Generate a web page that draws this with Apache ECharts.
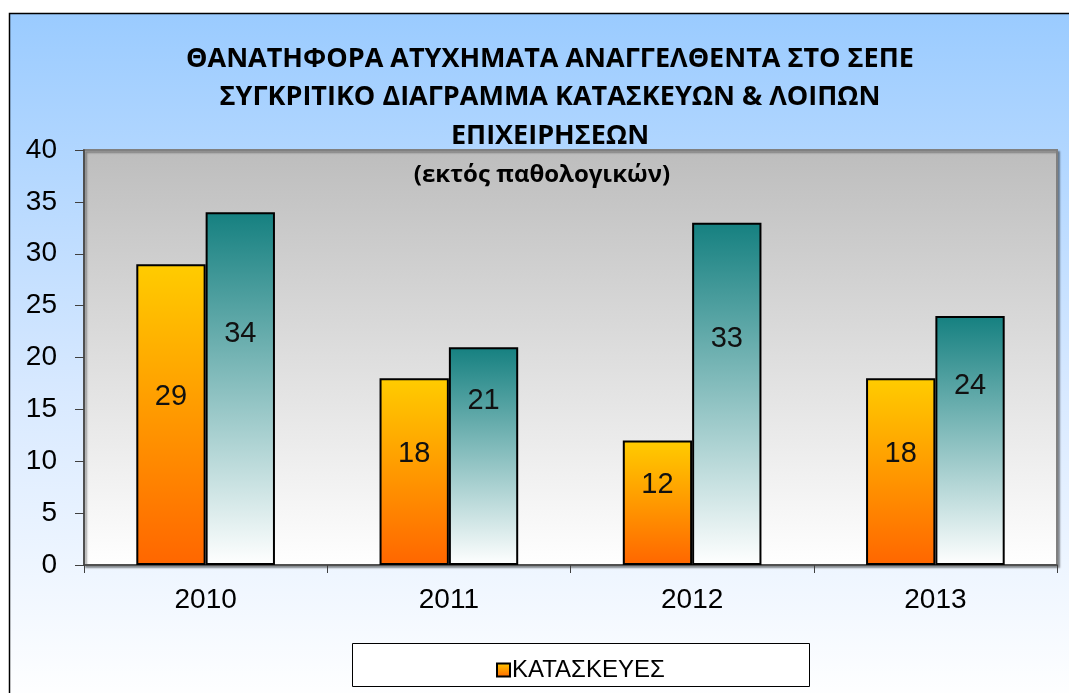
<!DOCTYPE html>
<html>
<head>
<meta charset="utf-8">
<style>
  html, body { margin: 0; padding: 0; background: #fff; }
  #chart { width: 1069px; height: 693px; }
</style>
<script src="https://cdn.jsdelivr.net/npm/echarts@6/dist/echarts.min.js"></script>
</head>
<body>
<div id="chart"></div>
<script>
// δεδομένα
var years = ['2010', '2011', '2012', '2013'];
var kataskeves = [29, 18, 12, 18];
var loipes = [34, 21, 33, 24];
var yTicks = [0, 5, 10, 15, 20, 25, 30, 35, 40];

var titleText = 'ΘΑΝΑΤΗΦΟΡΑ ΑΤΥΧΗΜΑΤΑ ΑΝΑΓΓΕΛΘΕΝΤΑ ΣΤΟ ΣΕΠΕ\nΣΥΓΚΡΙΤΙΚΟ ΔΙΑΓΡΑΜΜΑ ΚΑΤΑΣΚΕΥΩΝ & ΛΟΙΠΩΝ\nΕΠΙΧΕΙΡΗΣΕΩΝ';
var subText = '(εκτός παθολογικών)';

var myChart = echarts.init(document.getElementById('chart'));

var grad = function (top, bottom) {
    return new echarts.graphic.LinearGradient(0, 0, 0, 1, [
        { offset: 0, color: top },
        { offset: 1, color: bottom }
    ]);
};

var arial = 'Liberation Sans, Arial, sans-serif';

var option = {
    backgroundColor: '#fff',
    animation: false,
    graphic: [
        {
            type: 'rect', z: -10, silent: true,
            shape: { x: 9.5, y: 13.5, width: 1070, height: 690 },
            style: {
                fill: new echarts.graphic.LinearGradient(0, 0, 0, 1, [
                    { offset: 0, color: '#9ACBFF' },
                    { offset: 0.55, color: '#D8E9FF' },
                    { offset: 1, color: '#FFFFFF' }
                ]),
                stroke: '#000', lineWidth: 1.5
            }
        },
        {
            type: 'rect', z: -5, silent: true,
            shape: { x: 352.5, y: 643.5, width: 457, height: 43 },
            style: { fill: '#fff', stroke: '#000', lineWidth: 1 }
        }
    ],
    title: [
        {
            text: titleText,
            left: 545, top: 35, textAlign: 'center',
            textStyle: {
                fontFamily: 'Open Sans, Noto Sans, sans-serif',
                fontWeight: 'bold', fontSize: 27, lineHeight: 38.5, color: '#000'
            }
        },
        {
            text: subText,
            left: 537, top: 158, textAlign: 'center',
            textStyle: {
                fontFamily: 'Open Sans, Noto Sans, sans-serif',
                fontWeight: 'bold', fontSize: 24, color: '#000'
            }
        }
    ],
    legend: {
        data: ['ΚΑΤΑΣΚΕΥΕΣ'],
        left: 491, top: 653,
        icon: 'rect', itemWidth: 13, itemHeight: 13, itemGap: 4,
        textStyle: { fontFamily: arial, fontSize: 24, color: '#000', padding: [0, 0, 0, -3] }
    },
    grid: {
        left: 84, right: 12, top: 150, bottom: 128,
        show: true,
        backgroundColor: grad('#BDBDBD', '#FFFFFF'),
        borderColor: '#808080', borderWidth: 2,
        shadowColor: 'rgba(0,0,0,0.35)', shadowOffsetX: 2, shadowOffsetY: 2, shadowBlur: 2
    },
    xAxis: {
        type: 'category',
        data: years,
        axisLine: { lineStyle: { color: '#404040', width: 1.5 } },
        axisTick: { show: true, length: 8, alignWithLabel: false, lineStyle: { color: '#404040' } },
        axisLabel: { margin: 21, fontSize: 28, color: '#000', fontFamily: arial }
    },
    yAxis: {
        type: 'value',
        min: yTicks[0], max: yTicks[yTicks.length - 1], interval: 5,
        axisLine: { show: true, lineStyle: { color: '#404040', width: 1.5 } },
        axisTick: { show: true, length: 9, lineStyle: { color: '#404040' } },
        splitLine: { show: false },
        axisLabel: { margin: 27, fontSize: 28, color: '#000', fontFamily: arial }
    },
    series: [
        {
            name: 'ΚΑΤΑΣΚΕΥΕΣ',
            type: 'bar',
            data: kataskeves,
            barGap: '0%',
            barCategoryGap: '43%',
            itemStyle: { color: grad('#FFCC00', '#FF6600'), borderColor: '#000', borderWidth: 2 },
            label: { show: true, position: 'inside', offset: [0, -18], color: '#111', fontSize: 29, fontFamily: arial }
        },
        {
            name: 'ΛΟΙΠΕΣ ΕΠΙΧΕΙΡΗΣΕΙΣ',
            type: 'bar',
            data: loipes,
            itemStyle: { color: grad('#158080', '#FFFFFF'), borderColor: '#000', borderWidth: 2 },
            label: { show: true, position: 'inside', offset: [0, -55], color: '#111', fontSize: 29, fontFamily: arial }
        }
    ]
};

myChart.setOption(option);
</script>
</body>
</html>
